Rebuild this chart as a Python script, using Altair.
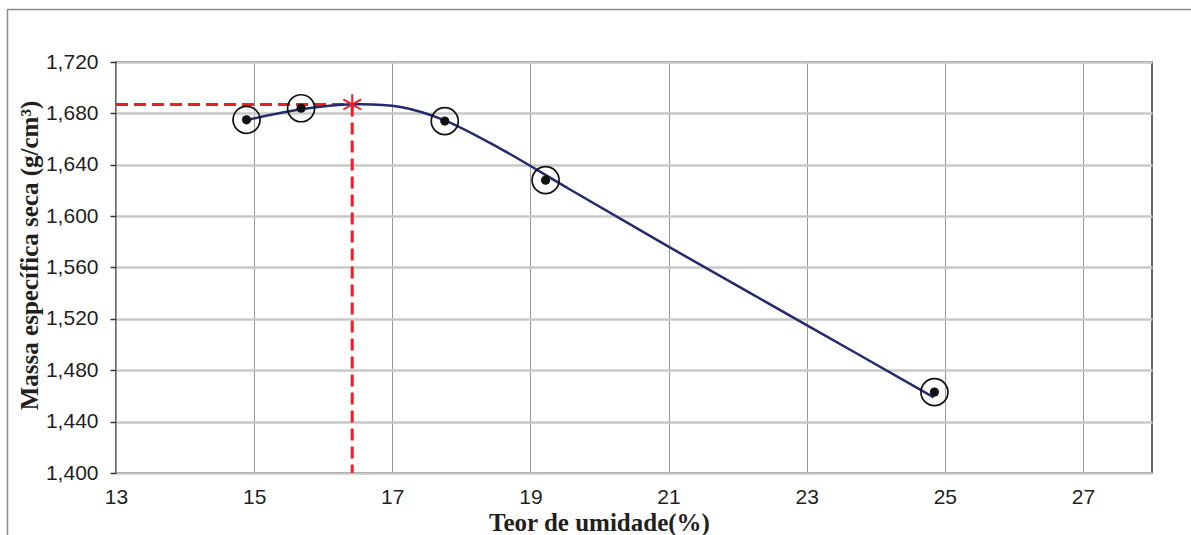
import altair as alt
import pandas as pd

# Measured points (Teor de umidade %, Massa específica seca g/cm³)
umidade = [14.89, 15.68, 17.76, 19.22, 24.85]
massa = [1.675, 1.684, 1.674, 1.628, 1.463]

# Fitted compaction curve
curva_x = [14.89, 15.68, 16.42, 17.12, 17.75, 18.57, 19.58, 21.0, 23.0, 24.84]
curva_y = [1.6748, 1.6832, 1.6871, 1.6850, 1.6748, 1.6524, 1.6205, 1.5762, 1.5152, 1.4589]

# Optimum point
w_otima = 16.42
rho_max = 1.687

x_min, x_max = 13, 28
y_min, y_max = 1.40, 1.72
x_ticks = [13, 15, 17, 19, 21, 23, 25, 27]
y_ticks = [1.40, 1.44, 1.48, 1.52, 1.56, 1.60, 1.64, 1.68, 1.72]

pts = pd.DataFrame({"x": umidade, "y": massa})
curve = pd.DataFrame({"x": curva_x, "y": curva_y})
hline = pd.DataFrame({"x": [x_min], "x2": [w_otima], "y": [rho_max]})
vline = pd.DataFrame({"x": [w_otima], "y": [rho_max], "y2": [y_min]})
opt = pd.DataFrame({"x": [w_otima], "y": [rho_max]})

xaxis = alt.Axis(
    values=x_ticks, title="Teor de umidade(%)",
    titleFont="Liberation Serif", titleFontSize=25, titleFontWeight="bold", titleColor="#231f20",
    titleX=483, titleY=57, titleAlign="center", titleBaseline="alphabetic",
    labelFont="Liberation Sans", labelFontSize=21, labelColor="#231f20", labelPadding=13,
    ticks=False, domain=False, grid=True, gridColor="#9a9a9a", gridWidth=1, labelFlush=False,
)
yaxis = alt.Axis(
    values=y_ticks, title="Massa específica seca (g/cm³)",
    labelExpr="replace(format(datum.value, '.3f'), '.', ',')",
    titleFont="Liberation Serif", titleFontSize=25, titleFontWeight="bold", titleColor="#231f20",
    titleX=-79, titleY=193, titleAlign="center", titleBaseline="alphabetic", titleAngle=-90,
    labelFont="Liberation Sans", labelFontSize=21, labelColor="#231f20", labelPadding=12,
    tickSize=6, tickColor="#333333", tickWidth=1.5, domain=False,
    grid=True, gridColor="#c8c8c8", gridWidth=2.5, labelFlush=False,
)
xs = alt.Scale(domain=[x_min, x_max], nice=False, zero=False)
ys = alt.Scale(domain=[y_min, y_max], nice=False, zero=False)


def X(f):
    return alt.X(f, type="quantitative", scale=xs, axis=xaxis)


def Y(f):
    return alt.Y(f, type="quantitative", scale=ys, axis=yaxis)


frame = alt.Chart(opt).mark_rect(
    fill=None, stroke="#8a8a8a", strokeWidth=1.5, clip=False
).encode(
    x=alt.value(-108.5), x2=alt.value(1200), y=alt.value(-52.5), y2=alt.value(600)
)

red = "#ee1c25"
h = alt.Chart(hline).mark_rule(color=red, strokeWidth=3, strokeDash=[12, 6]).encode(
    x=X("x"), x2="x2", y=Y("y")
)
v = alt.Chart(vline).mark_rule(color=red, strokeWidth=3, strokeDash=[12, 6]).encode(
    x=X("x"), y=Y("y"), y2="y2"
)
line = alt.Chart(curve).mark_line(color="#232a6e", strokeWidth=2.5, interpolate="catmull-rom").encode(
    x=X("x"), y=Y("y")
)
rings = alt.Chart(pts).mark_point(
    shape="circle", size=729, filled=False, stroke="#111111", strokeWidth=1.7, opacity=1
).encode(x=X("x"), y=Y("y"))
dots = alt.Chart(pts).mark_point(
    shape="circle", size=85, filled=True, fill="#111111", stroke=None, opacity=1
).encode(x=X("x"), y=Y("y"))
star = alt.Chart(opt).mark_point(
    shape="M0,-1L0,1M-0.87,-0.5L0.87,0.5M-0.87,0.5L0.87,-0.5",
    size=420, filled=False, stroke=red, strokeWidth=2, opacity=1
).encode(x=X("x"), y=Y("y"))

chart = alt.layer(frame, h, v, line, rings, dots, star).properties(
    width=1036, height=411,
    autosize=alt.AutoSizeParams(type="none"),
    padding={"left": 116, "top": 62, "right": 39, "bottom": 62},
    background="white",
).configure_view(stroke="#333333", strokeWidth=1.5)

chart.save("out.html", embed_options={"renderer": "svg", "actions": False})
